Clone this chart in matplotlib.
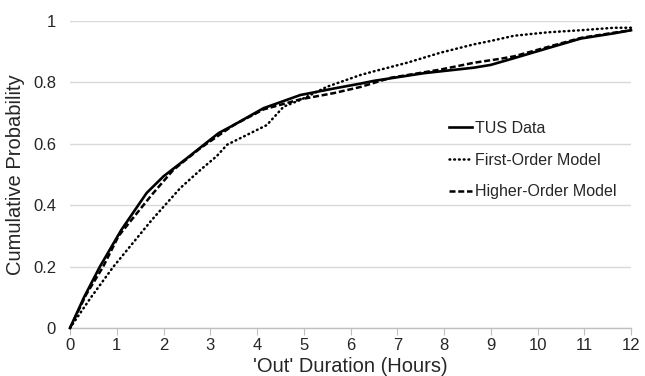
import numpy as np
import matplotlib
matplotlib.use("Agg")
import matplotlib.pyplot as plt
from matplotlib.ticker import FuncFormatter

plt.rcParams['font.family'] = ['Liberation Sans', 'DejaVu Sans']

# TUS data (solid)
tus_x = [0, 0.3, 0.64, 1.1, 1.64, 2.0, 2.5, 3.18, 3.5, 4.14, 4.93, 5.64, 6.21, 6.5,
         7.57, 8.64, 9.0, 9.5, 10.21, 10.93, 11.64, 12]
tus_y = [0, 0.1, 0.2, 0.32, 0.44, 0.494, 0.553, 0.635, 0.661, 0.716, 0.759, 0.78, 0.796, 0.805,
         0.83, 0.848, 0.857, 0.879, 0.911, 0.943, 0.96, 0.97]

# First-order model (dotted)
first_x = [0, 0.45, 0.93, 1.75, 2.36, 2.79, 3.14, 3.36, 4.21, 4.57, 4.93, 5.5, 6.21, 6.5,
           7.21, 7.93, 8.64, 9.0, 9.5, 10.21, 10.93, 11.64, 12]
first_y = [0, 0.1, 0.2, 0.352, 0.456, 0.515, 0.56, 0.597, 0.661, 0.721, 0.743, 0.786, 0.824, 0.836,
           0.864, 0.897, 0.924, 0.935, 0.952, 0.963, 0.97, 0.978, 0.978]

# Higher-order model (dashed)
higher_x = [0, 0.35, 0.71, 1.04, 1.75, 2.21, 2.79, 3.5, 4.14, 4.93, 5.64, 6.21, 6.86,
            7.93, 8.64, 9.21, 9.5, 10.21, 10.93, 11.64, 12]
higher_y = [0, 0.11, 0.2, 0.3, 0.434, 0.515, 0.586, 0.661, 0.712, 0.745, 0.765, 0.785, 0.815,
            0.842, 0.864, 0.877, 0.885, 0.915, 0.945, 0.962, 0.97]

fig = plt.figure(figsize=(6.45, 3.76), dpi=100)
ax = fig.add_axes([70 / 645, 1 - 328 / 376, 561 / 645, 307 / 376])

ax.plot(tus_x, tus_y, color='black', lw=1.9, label='TUS Data', clip_on=False, zorder=3)
ax.plot(first_x, first_y, color='black', lw=1.8, linestyle=(0, (0.3, 1.6)),
        dash_capstyle='round', label='First-Order Model', clip_on=False, zorder=3)
ax.plot(higher_x, higher_y, color='black', lw=1.8, linestyle=(0, (2.4, 1.1)),
        label='Higher-Order Model', clip_on=False, zorder=3)

ax.set_xlim(0, 12)
ax.set_ylim(0, 1)
ax.set_xticks(range(0, 13))
ax.set_yticks([0, 0.2, 0.4, 0.6, 0.8, 1])
ax.yaxis.set_major_formatter(FuncFormatter(lambda v, p: f'{v:g}'))

ax.grid(axis='y', color='#d9d9d9', lw=1)
ax.set_axisbelow(True)
for s in ['top', 'right', 'left']:
    ax.spines[s].set_visible(False)
ax.spines['bottom'].set_color('#bfbfbf')
ax.spines['bottom'].set_linewidth(1)
ax.tick_params(axis='x', direction='out', length=5, color='#bfbfbf', labelsize=12,
               labelcolor='#262626', pad=2)
ax.tick_params(axis='y', length=0, labelsize=12, labelcolor='#262626', pad=10)

ax.set_xlabel("'Out' Duration (Hours)", fontsize=14.5, color='#262626', labelpad=3)
ax.set_ylabel('Cumulative Probability', fontsize=14.5, color='#262626', labelpad=6)

leg = ax.legend(loc='upper left', bbox_to_anchor=(0.676, 0.675), frameon=False,
                fontsize=11.5, borderpad=0, handlelength=1.4, handletextpad=0.2,
                labelspacing=1.05, borderaxespad=0)
for t in leg.get_texts():
    t.set_color('#262626')

fig.savefig('out.png', dpi=100)
